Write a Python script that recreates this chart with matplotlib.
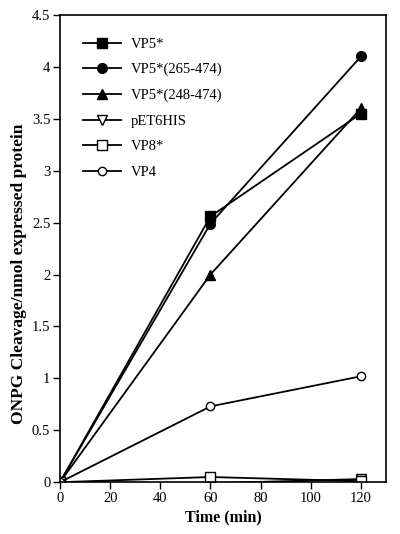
import matplotlib
matplotlib.use("Agg")
import matplotlib.pyplot as plt

plt.rcParams['font.family'] = ['Liberation Serif', 'DejaVu Serif']

time = [0, 60, 120]
series_names = ["VP5*", "VP5*(265-474)", "VP5*(248-474)", "pET6HIS", "VP8*", "VP4"]
vp5 = [0, 2.56, 3.55]
vp5_265 = [0, 2.49, 4.10]
vp5_248 = [0, 2.00, 3.60]
pet6his = [0, -0.01, 0.03]
vp8 = [0, 0.05, 0.01]
vp4 = [0, 0.73, 1.02]
x_ticks = [0, 20, 40, 60, 80, 100, 120]
y_ticks = [0, 0.5, 1, 1.5, 2, 2.5, 3, 3.5, 4, 4.5]
y_tick_labels = ["0", "0.5", "1", "1.5", "2", "2.5", "3", "3.5", "4", "4.5"]

fig = plt.figure(figsize=(4.0, 5.34), dpi=100)
ax = fig.add_axes([0.15, 0.097, 0.815, 0.875])

styles = [
    (vp5, dict(marker='s', mfc='black', ms=7)),
    (vp5_265, dict(marker='o', mfc='black', ms=7)),
    (vp5_248, dict(marker='^', mfc='black', ms=7)),
    (pet6his, dict(marker='v', mfc='white', ms=7)),
    (vp8, dict(marker='s', mfc='white', ms=7)),
    (vp4, dict(marker='o', mfc='white', ms=6)),
]
for (vals, st), name in zip(styles, series_names):
    ax.plot(time, vals, color='black', lw=1.3, mec='black', mew=1.0, label=name, **st)

ax.set_xlim(0, 130)
ax.set_ylim(0, 4.5)
ax.set_xticks(x_ticks)
ax.set_yticks(y_ticks)
ax.set_yticklabels(y_tick_labels)
ax.tick_params(direction='out', length=5, width=1, labelsize=10.5, pad=2)
for s in ax.spines.values():
    s.set_linewidth(1.2)
ax.set_xlabel("Time (min)", fontsize=11.5, fontweight='bold', labelpad=3)
ax.set_ylabel("ONPG Cleavage/nmol expressed protein", fontsize=12.5, fontweight='bold')
ax.yaxis.set_label_coords(-0.10, 0.445)

leg = ax.legend(loc='upper left', bbox_to_anchor=(0.03, 0.98), frameon=False,
                fontsize=10.5, handlelength=2.6, labelspacing=0.845, handletextpad=0.7)
fig.savefig("out.png", dpi=100)
